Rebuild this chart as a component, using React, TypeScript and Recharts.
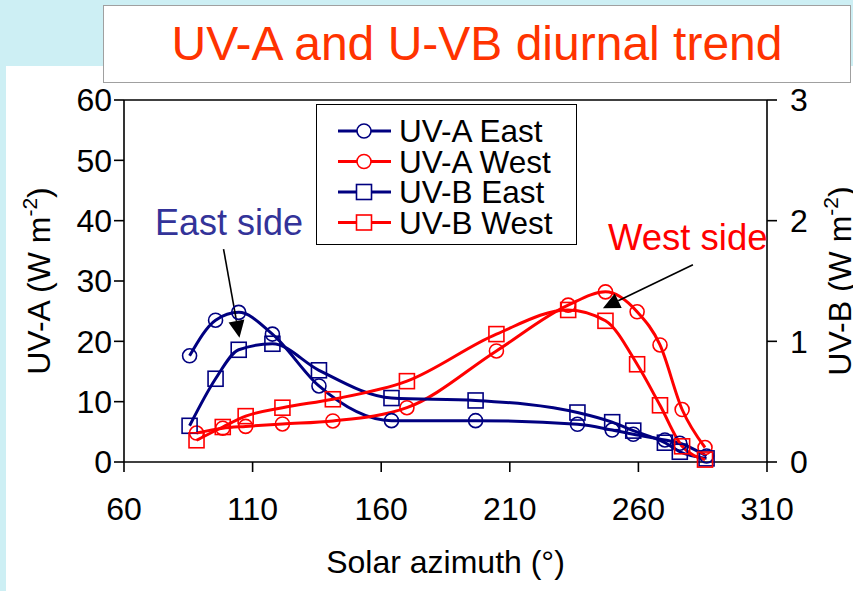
import React from 'react';
import { LineChart, Line, XAxis, YAxis, ReferenceLine, Legend } from 'recharts';

// solar azimuth (deg) of the readings on each side
const eastAzimuth = [85.5, 95.6, 104.6, 117.7, 135.8, 164, 196.7, 236.3, 249.8, 258, 270.3, 276.1, 286.5];
const westAzimuth = [88.2, 98.4, 107.3, 121.6, 141.2, 170, 204.8, 232.7, 247.2, 259.5, 268.4, 277, 285.9];

// UV-A in W m-2 (left axis), UV-B in W m-2 (right axis)
const uvaEast = [17.6, 23.5, 24.8, 21.2, 12.6, 6.85, 6.85, 6.25, 5.3, 4.6, 3.65, 3.1, 1.0];
const uvaWest = [4.8, 5.6, 5.9, 6.3, 6.8, 9.0, 18.4, 26.0, 28.2, 24.9, 19.4, 8.7, 2.4];
const uvbEast = [0.3, 0.69, 0.93, 0.98, 0.76, 0.53, 0.51, 0.41, 0.33, 0.26, 0.16, 0.085, 0.03];
const uvbWest = [0.18, 0.29, 0.38, 0.45, 0.52, 0.67, 1.06, 1.26, 1.17, 0.81, 0.47, 0.13, 0.02];

const xTicks = [60, 110, 160, 210, 260, 310];
const uvaTicks = [0, 10, 20, 30, 40, 50, 60];
const uvbTicks = [0, 1, 2, 3];

// annotation arrows, [start, tip] in UV-A axis units
const eastArrow = [{ x: 98.7, y: 35.3 }, { x: 104.9, y: 20.6 }];
const westArrow = [{ x: 281.2, y: 32.7 }, { x: 246.2, y: 25.5 }];

const NAVY = '#000080';
const RED = '#ff0000';
const FONT = '"Liberation Sans", Arial, sans-serif';

const toPoints = (xs: number[], ys: number[]) => xs.map((x, i) => ({ x, y: ys[i] }));

const seriesList = [
  { name: 'UV-A East', color: NAVY, marker: 'circle', axis: 'a', data: toPoints(eastAzimuth, uvaEast) },
  { name: 'UV-A West', color: RED, marker: 'circle', axis: 'a', data: toPoints(westAzimuth, uvaWest) },
  { name: 'UV-B East', color: NAVY, marker: 'square', axis: 'b', data: toPoints(eastAzimuth, uvbEast) },
  { name: 'UV-B West', color: RED, marker: 'square', axis: 'b', data: toPoints(westAzimuth, uvbWest) },
];

const makeDot = (color: string, marker: string) => (props: any) => {
  const { cx, cy, index } = props;
  if (cx == null || cy == null) return <g key={index} />;
  if (marker === 'circle') {
    return <circle key={index} cx={cx} cy={cy} r={7} fill="none" stroke={color} strokeWidth={1.6} />;
  }
  return <rect key={index} x={cx - 7.5} y={cy - 7.5} width={15} height={15} fill="none" stroke={color} strokeWidth={1.6} />;
};

const arrowShape = (p: any) => {
  const { x1, y1, x2, y2 } = p;
  const len = Math.hypot(x2 - x1, y2 - y1) || 1;
  const ux = (x2 - x1) / len;
  const uy = (y2 - y1) / len;
  const bx = x2 - ux * 17;
  const by = y2 - uy * 17;
  const px = -uy * 8;
  const py = ux * 8;
  return (
    <g>
      <line x1={x1} y1={y1} x2={bx} y2={by} stroke="#000" strokeWidth={1.6} />
      <polygon points={`${x2},${y2} ${bx + px},${by + py} ${bx - px},${by - py}`} fill="#000" />
    </g>
  );
};

const LegendBox = () => (
  <svg width={262} height={142} style={{ display: 'block' }}>
    <rect x={0.5} y={0.5} width={260} height={140} fill="#fff" stroke="#000" strokeWidth={1} />
    {seriesList.map((s, i) => {
      const cy = 27 + i * 30.5;
      return (
        <g key={s.name}>
          <line x1={22} y1={cy} x2={75} y2={cy} stroke={s.color} strokeWidth={3} />
          {s.marker === 'circle' ? (
            <circle cx={48} cy={cy} r={7} fill="#fff" stroke={s.color} strokeWidth={1.6} />
          ) : (
            <rect x={40.5} y={cy - 7.5} width={15} height={15} fill="#fff" stroke={s.color} strokeWidth={1.6} />
          )}
          <text x={83} y={cy + 11} fontSize={31.5} fill="#000" fontFamily={FONT}>{s.name}</text>
        </g>
      );
    })}
  </svg>
);

const axisStroke = { stroke: '#000', strokeWidth: 1.6 };

export default function App() {
  return (
    <div style={{ position: 'absolute', left: 0, top: 0, width: 853, height: 591, background: '#cdeff4', overflow: 'hidden', fontFamily: FONT }}>
      <div style={{ position: 'absolute', left: 6, top: 66, right: 0, bottom: 0, background: '#fff' }} />
      <div style={{ position: 'absolute', left: 103, top: 5, width: 746, height: 76, background: '#fff', border: '1.5px solid #a0a0a0', textAlign: 'center', color: '#ff3300', fontSize: 48, lineHeight: '76px', whiteSpace: 'nowrap' }}>
        UV-A and U-VB diurnal trend
      </div>
      <div style={{ position: 'absolute', left: 0, top: 0 }}>
        <LineChart width={853} height={591} margin={{ top: 100, right: 0, bottom: 0, left: 0 }}>
          <XAxis
            type="number"
            dataKey="x"
            domain={[60, 310]}
            ticks={xTicks}
            allowDataOverflow
            height={129}
            tickSize={10}
            tickMargin={25}
            axisLine={axisStroke}
            tickLine={axisStroke}
            tick={{ fill: '#000', fontSize: 32 }}
            label={{ value: 'Solar azimuth (°)', position: 'insideBottom', offset: 18, fill: '#000', fontSize: 32 }}
          />
          <YAxis
            yAxisId="a"
            orientation="left"
            domain={[0, 60]}
            ticks={uvaTicks}
            width={124}
            tickSize={10}
            tickMargin={2}
            axisLine={axisStroke}
            tickLine={axisStroke}
            tick={{ fill: '#000', fontSize: 32 }}
          />
          <YAxis
            yAxisId="b"
            orientation="right"
            domain={[0, 3]}
            ticks={uvbTicks}
            width={86}
            tickSize={10}
            tickMargin={13}
            axisLine={axisStroke}
            tickLine={axisStroke}
            tick={{ fill: '#000', fontSize: 32, textAnchor: 'start' }}
          />
          <ReferenceLine yAxisId="a" y={60} stroke="#000" strokeWidth={1.6} />
          {seriesList.map((s) => (
            <Line
              key={s.name}
              name={s.name}
              yAxisId={s.axis}
              data={s.data}
              dataKey="y"
              type="monotone"
              stroke={s.color}
              strokeWidth={3}
              dot={makeDot(s.color, s.marker)}
              activeDot={false}
              isAnimationActive={false}
            />
          ))}
          <ReferenceLine yAxisId="a" segment={eastArrow} shape={arrowShape} />
          <ReferenceLine yAxisId="a" segment={westArrow} shape={arrowShape} />
          <Legend
            layout="horizontal"
            verticalAlign="middle"
            align="center"
            content={() => <LegendBox />}
            wrapperStyle={{ left: 316, top: 104, width: 262, height: 142 }}
          />
        </LineChart>
      </div>
      <svg width={853} height={591} style={{ position: 'absolute', left: 0, top: 0, pointerEvents: 'none' }} fontFamily={FONT}>
        <text x={50} y={281} transform="rotate(-90 50 281)" textAnchor="middle" fontSize={32} fill="#000">
          UV-A (W m<tspan dy={-13} fontSize={21}>-2</tspan><tspan dy={13}>)</tspan>
        </text>
        <text x={851} y={281} transform="rotate(-90 851 281)" textAnchor="middle" fontSize={32} fill="#000">
          UV-B (W m<tspan dy={-13} fontSize={21}>-2</tspan><tspan dy={13}>)</tspan>
        </text>
        <text x={155} y={235} fontSize={36} fill="#333399">East side</text>
        <text x={608} y={250} fontSize={36.5} fill={RED}>West side</text>
      </svg>
    </div>
  );
}
